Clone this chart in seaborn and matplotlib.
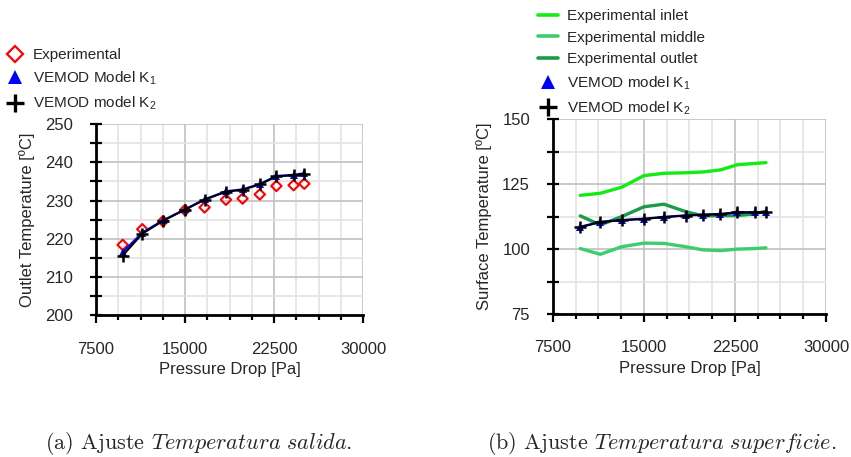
import numpy as np
import pandas as pd
import matplotlib
matplotlib.use("Agg")
import matplotlib.pyplot as plt
from matplotlib.lines import Line2D
from matplotlib.ticker import MultipleLocator
import seaborn as sns

# ---- data -------------------------------------------------------------
pressure_drop = [9750, 11400, 13150, 15000, 16650, 18450, 19850, 21300, 22700, 24150, 25050]

# (a) outlet temperature [ºC]
outlet_exp = [218.4, 222.5, 224.6, 227.5, 228.2, 230.2, 230.5, 231.6, 233.8, 234.0, 234.4]
outlet_k1 = [216.5, 221.6, 224.8, 227.7, 230.3, 232.4, 232.9, 234.3, 236.4, 236.7, 237.1]
outlet_k2 = [215.6, 221.3, 224.7, 227.6, 230.2, 232.3, 232.8, 234.2, 236.3, 236.6, 237.0]

# (b) surface temperature [ºC]
surf_inlet = [120.7, 121.5, 123.8, 128.3, 129.2, 129.4, 129.7, 130.5, 132.5, 133.0, 133.3]
surf_middle = [100.2, 98.0, 100.9, 102.3, 102.2, 100.9, 99.7, 99.4, 100.0, 100.2, 100.5]
surf_outlet = [112.8, 109.3, 112.5, 116.3, 117.3, 114.4, 112.8, 112.9, 112.9, 113.6, 114.6]
surf_k1 = [108.6, 110.5, 111.2, 111.7, 112.4, 113.0, 113.3, 113.5, 114.2, 114.2, 114.3]
surf_k2 = [108.4, 110.4, 111.1, 111.6, 112.3, 112.9, 113.2, 113.5, 114.1, 114.1, 114.2]

x_ticks = [7500, 15000, 22500, 30000]

df_a = pd.DataFrame({"dp": pressure_drop, "exp": outlet_exp, "k1": outlet_k1, "k2": outlet_k2})
df_b = pd.DataFrame({"dp": pressure_drop, "inlet": surf_inlet, "middle": surf_middle,
                     "outlet": surf_outlet, "k1": surf_k1, "k2": surf_k2})

# ---- style ------------------------------------------------------------
sns.set_theme(style="white")
plt.rcParams.update({
    "font.family": ["Liberation Sans", "DejaVu Sans"],
    "mathtext.fontset": "custom",
    "mathtext.rm": "Liberation Sans",
    "mathtext.it": "cmmi10",
    "mathtext.bf": "Liberation Sans:bold",
    "axes.unicode_minus": False,
})

GREEN_IN = "#12ec12"
GREEN_MID = "#3ecd6c"
GREEN_OUT = "#1c9a48"

fig = plt.figure(figsize=(8.51, 4.57), dpi=100)
ax_a = fig.add_axes([0.1128, 0.3100, 0.3138, 0.4187])
ax_b = fig.add_axes([0.6498, 0.3129, 0.3208, 0.4261])


def style_axes(ax, ylim, ymajor, yminor):
    ax.set_xlim(7500, 30000)
    ax.set_ylim(*ylim)
    ax.xaxis.set_major_locator(MultipleLocator(7500))
    ax.xaxis.set_minor_locator(MultipleLocator(1875))
    ax.yaxis.set_major_locator(MultipleLocator(ymajor))
    ax.yaxis.set_minor_locator(MultipleLocator(yminor))
    ax.grid(which="major", color="#c0c0c0", linewidth=1.2, zorder=0)
    ax.grid(which="minor", color="#e3e3e3", linewidth=1.2, zorder=0)
    ax.set_axisbelow(True)
    for side in ("top", "right"):
        ax.spines[side].set_visible(False)
    for side in ("left", "bottom"):
        ax.spines[side].set_color("black")
        ax.spines[side].set_linewidth(2.0)
    ax.tick_params(axis="x", which="major", direction="out", length=6, width=1.6,
                   color="black", pad=13, labelsize=12, bottom=True)
    ax.tick_params(axis="x", which="minor", direction="out", length=3.5, width=1.6,
                   color="black", bottom=True)
    ax.tick_params(axis="y", which="both", direction="inout", length=9, width=1.6,
                   color="black", pad=12, labelsize=12, left=True)
    ax.set_xlabel("Pressure Drop [Pa]", fontsize=12, labelpad=4)


def model_lines(ax, df):
    sns.lineplot(data=df, x="dp", y="k1", ax=ax, color="#0000ff", linewidth=1.6,
                 marker="^", markersize=6, markeredgewidth=0,
                 markeredgecolor="#0000ff", zorder=4)
    sns.lineplot(data=df, x="dp", y="k2", ax=ax, color="black", linewidth=1.4,
                 marker="+", markersize=8, markeredgewidth=1.8,
                 markeredgecolor="black", zorder=5)


# ---- (a) outlet temperature ---------------------------------------------
style_axes(ax_a, (200, 250), 10, 5)
sns.scatterplot(data=df_a, x="dp", y="exp", ax=ax_a, marker="D", s=28,
                facecolors="none", edgecolor="#ff0000", linewidth=1.5, zorder=3)
model_lines(ax_a, df_a)
ax_a.set_xticks(x_ticks)
ax_a.set_ylabel("Outlet Temperature [ºC]", fontsize=12, labelpad=7)

handles_a = [
    Line2D([], [], linestyle="none", marker="D", markersize=8, markerfacecolor="none",
           markeredgecolor="#ff0000", markeredgewidth=1.6),
    Line2D([], [], linestyle="none", marker="^", markersize=10, color="#0000ff",
           markeredgewidth=0),
    Line2D([], [], linestyle="none", marker="+", markersize=13, color="black",
           markeredgewidth=2.4),
]
labels_a = ["Experimental", "VEMOD Model K$_1$", "VEMOD model K$_2$"]
fig.legend(handles_a, labels_a, loc="upper left", bbox_to_anchor=(0.002, 0.905),
           frameon=False, fontsize=11, handlelength=1.2, handletextpad=0.55,
           labelspacing=0.5, borderaxespad=0, borderpad=0.3)

# ---- (b) surface temperature --------------------------------------------
style_axes(ax_b, (75, 150), 25, 12.5)
sns.lineplot(data=df_b, x="dp", y="inlet", ax=ax_b, color=GREEN_IN, linewidth=2.4, zorder=3)
sns.lineplot(data=df_b, x="dp", y="middle", ax=ax_b, color=GREEN_MID, linewidth=2.4, zorder=3)
sns.lineplot(data=df_b, x="dp", y="outlet", ax=ax_b, color=GREEN_OUT, linewidth=2.4, zorder=3)
model_lines(ax_b, df_b)
ax_b.set_xticks(x_ticks)
ax_b.set_ylabel("Surface Temperature [ºC]", fontsize=12, labelpad=7)

handles_b = [
    Line2D([], [], color=GREEN_IN, linewidth=2.6),
    Line2D([], [], color=GREEN_MID, linewidth=2.6),
    Line2D([], [], color=GREEN_OUT, linewidth=2.6),
    Line2D([], [], linestyle="none", marker="^", markersize=10, color="#0000ff",
           markeredgewidth=0),
    Line2D([], [], linestyle="none", marker="+", markersize=13, color="black",
           markeredgewidth=2.4),
]
labels_b = ["Experimental inlet", "Experimental middle", "Experimental outlet",
            "VEMOD model K$_1$", "VEMOD model K$_2$"]
fig.legend(handles_b, labels_b, loc="upper left", bbox_to_anchor=(0.627, 0.99),
           frameon=False, fontsize=11, handlelength=1.3, handletextpad=0.6,
           labelspacing=0.5, borderaxespad=0, borderpad=0.3)

# ---- sub-figure captions -----------------------------------------------
fig.text(0.233, 0.017, r"(a) Ajuste $\mathit{Temperatura\ salida}$.", ha="center",
         va="baseline", fontsize=16, family="cmr10")
fig.text(0.778, 0.017, r"(b) Ajuste $\mathit{Temperatura\ superficie}$.", ha="center",
         va="baseline", fontsize=16, family="cmr10")

fig.savefig("out.png", dpi=100)
